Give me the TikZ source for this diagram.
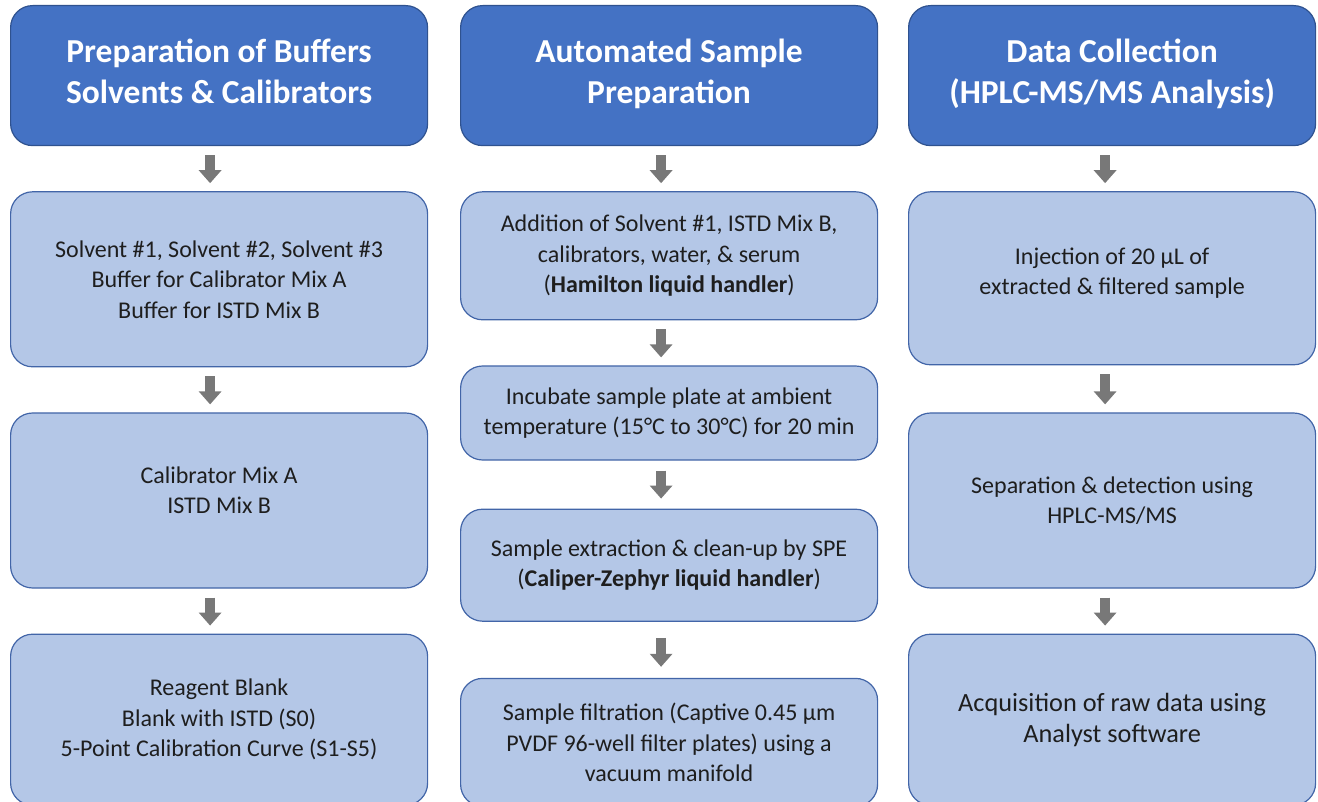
\documentclass[tikz,border=0pt]{standalone}
\usepackage{fontspec}
\setmainfont{Carlito}
\usepackage{xcolor}
\usetikzlibrary{positioning,arrows.meta}
\definecolor{headerblue}{RGB}{68, 114, 196}
\definecolor{headerline}{RGB}{47, 82, 143}
\definecolor{stepblue}{RGB}{180, 199, 231}
\definecolor{stepline}{RGB}{66, 101, 168}
\definecolor{arrowgray}{RGB}{120, 120, 120}
\definecolor{textdark}{RGB}{30, 30, 30}

\begin{document}
\begin{tikzpicture}[
    x=1pt, y=1pt,
    node distance=45pt,
    header/.style={rectangle, rounded corners=22pt, draw=headerline, line width=1.2pt, fill=headerblue,
                   text=white, align=center, inner sep=0pt, minimum height=140pt,
                   font=\fontsize{33.5}{41}\selectfont\bfseries},
    stepbox/.style={rectangle, rounded corners=22pt, draw=stepline, line width=1.2pt, fill=stepblue,
                    text=textdark, align=center, inner sep=0pt,
                    font=\fontsize{24}{30.5}\selectfont},
    flow/.style={draw=arrowgray, line width=10pt, -{Triangle[width=22pt, length=13pt]},
                 shorten <=9pt, shorten >=8pt}
]
    \useasboundingbox (0,0) rectangle (1318,-802);

    % Headers
    \node[header, minimum width=417pt, anchor=north west] (prep) at (10,-5)
        {Preparation of Buffers\\Solvents \& Calibrators\\[-32pt]};
    \node[header, minimum width=417pt, anchor=north west] (auto) at (460,-5)
        {Automated Sample\\Preparation\\[-32pt]};
    \node[header, minimum width=407pt, anchor=north west] (data) at (908,-5)
        {Data Collection\\(HPLC-MS/MS Analysis)\\[-32pt]};

    % Left column
    \node[stepbox, minimum width=417pt, minimum height=175pt, below=of prep] (solvents)
        {Solvent \#1, Solvent \#2, Solvent \#3\\Buffer for Calibrator Mix A\\Buffer for ISTD Mix B};
    \node[stepbox, minimum width=417pt, minimum height=175pt, below=of solvents] (mixes)
        {Calibrator Mix A\\ISTD Mix B\\[-10pt]};
    \node[stepbox, minimum width=417pt, minimum height=171pt, below=of mixes] (blanks)
        {Reagent Blank\\Blank with ISTD (S0)\\5-Point Calibration Curve (S1-S5)};

    % Middle column
    \node[stepbox, minimum width=417pt, minimum height=128pt, below=of auto] (addition)
        {Addition of Solvent \#1, ISTD Mix B,\\calibrators, water, \& serum\\(\textbf{Hamilton liquid handler})};
    \node[stepbox, minimum width=417pt, minimum height=94pt, below=of addition] (incubate)
        {Incubate sample plate at ambient\\temperature (15°C to 30°C) for 20 min};
    \node[stepbox, minimum width=417pt, minimum height=112pt, below=48pt of incubate] (extract)
        {Sample extraction \& clean-up by SPE\\(\textbf{Caliper-Zephyr liquid handler})};
    \node[stepbox, minimum width=417pt, minimum height=128pt, below=56pt of extract] (filter)
        {Sample filtration (Captive 0.45 µm\\PVDF 96-well filter plates) using a\\vacuum manifold};

    % Right column
    \node[stepbox, minimum width=407pt, minimum height=173pt, below=of data] (inject)
        {Injection of 20 µL of\\extracted \& filtered sample\\[-16pt]};
    \node[stepbox, minimum width=407pt, minimum height=175pt, below=47pt of inject] (separate)
        {Separation \& detection using\\HPLC-MS/MS};
    \node[stepbox, minimum width=407pt, minimum height=171pt, below=of separate,
          font=\fontsize{26.3}{31}\selectfont] (acquire)
        {Acquisition of raw data using\\Analyst software};

    % Arrows
    \draw[flow] ([xshift=-9pt]prep.south)     -- ([xshift=-9pt]solvents.north);
    \draw[flow] ([xshift=-9pt]solvents.south) -- ([xshift=-9pt]mixes.north);
    \draw[flow] ([xshift=-9pt]mixes.south)    -- ([xshift=-9pt]blanks.north);

    \draw[flow] ([xshift=-8pt]auto.south)     -- ([xshift=-8pt]addition.north);
    \draw[flow] ([xshift=-8pt]addition.south) -- ([xshift=-8pt]incubate.north);
    \draw[flow, shorten <=10pt, shorten >=10pt] ([xshift=-8pt]incubate.south) -- ([xshift=-8pt]extract.north);
    \draw[flow, shorten <=16pt, shorten >=11pt] ([xshift=-8pt]extract.south)  -- ([xshift=-8pt]filter.north);

    \draw[flow] ([xshift=-7pt]data.south)     -- ([xshift=-7pt]inject.north);
    \draw[flow] ([xshift=-7pt]inject.south)   -- ([xshift=-7pt]separate.north);
    \draw[flow] ([xshift=-7pt]separate.south) -- ([xshift=-7pt]acquire.north);
\end{tikzpicture}
\end{document}
